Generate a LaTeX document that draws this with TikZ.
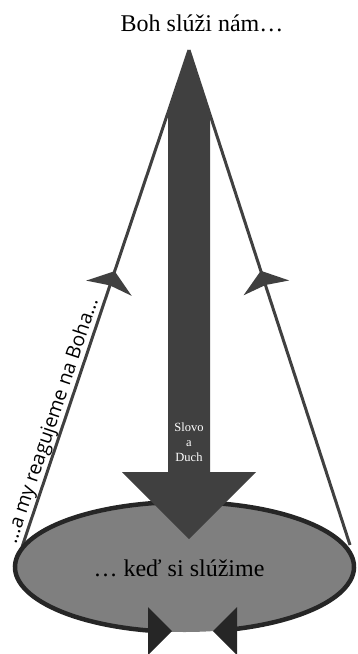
\documentclass[tikz,border=0pt]{standalone}
\usepackage{fontspec}
\setmainfont{Liberation Serif}
\newfontfamily\sidefont{Open Sans}
\usetikzlibrary{calc}
\definecolor{arrowgray}{HTML}{404040}
\definecolor{ellfill}{HTML}{7F7F7F}
\definecolor{ellline}{HTML}{262626}
\tikzset{
  coneline/.style={draw=arrowgray, line width=3pt},
  headfill/.style={fill=arrowgray},
  bigtext/.style={font=\fontsize{24}{28}\selectfont, anchor=base, inner sep=0pt},
}
\begin{document}
\begin{tikzpicture}[x=1pt,y=1pt]
\useasboundingbox (0,0) rectangle (357,-654);
% cone
\coordinate (A) at (189,-50);
\coordinate (L0) at (22,-547);
\coordinate (R0) at (350,-545);
\draw[coneline] (L0) -- (A);
\draw[coneline] (R0) -- (A);
\path (L0) -- (A) coordinate[pos=0.555] (Tl);
\path (R0) -- (A) coordinate[pos=0.554] (Tr);
\coordinate (Bl) at ($(Tl)!18pt!(L0)$);
\coordinate (Br) at ($(Tr)!18pt!(R0)$);
\fill[headfill] (Tl) -- ($(Bl)!24pt!90:(Tl)$) -- ($(Tl)!15pt!(L0)$) -- ($(Bl)!24pt!-90:(Tl)$) -- cycle;
\fill[headfill] (Tr) -- ($(Br)!24pt!90:(Tr)$) -- ($(Tr)!15pt!(R0)$) -- ($(Br)!24pt!-90:(Tr)$) -- cycle;
% ellipse
\coordinate (E) at (184.5,-567);
\fill[ellfill] (E) ellipse [x radius=169.5pt, y radius=65pt];
\draw[draw=ellline, line width=4.5pt] ($(E)+(257.57:169.5pt and 65pt)$)
  arc[start angle=257.57, end angle=-71.96, x radius=169.5pt, y radius=65pt];
\fill[ellline] (148,-607) -- (148,-655) -- (172,-631) -- cycle;
\fill[ellline] (237,-607) -- (237,-655) -- (213,-631) -- cycle;
% big arrow
\fill[headfill] (189,-50) -- (210,-112) -- (210,-472) -- (256,-472) -- (189,-539)
  -- (122,-472) -- (168,-472) -- (168,-112) -- cycle;
% texts
\node[bigtext] (top) at (202,-31) {Boh slúži nám…};
\node[bigtext] (bottom) at (179,-576) {… keď si slúžime};
\node[text=white, font=\fontsize{12.5}{15}\selectfont, align=center, inner sep=0pt] (word) at (189,-442) {Slovo\\a\\Duch};
\node[font=\sidefont\fontsize{19.5}{23}\selectfont, rotate=71.4, anchor=south, inner sep=2pt] (resp) at (63.7,-425) {...a my reagujeme na Boha...};
\end{tikzpicture}
\end{document}
